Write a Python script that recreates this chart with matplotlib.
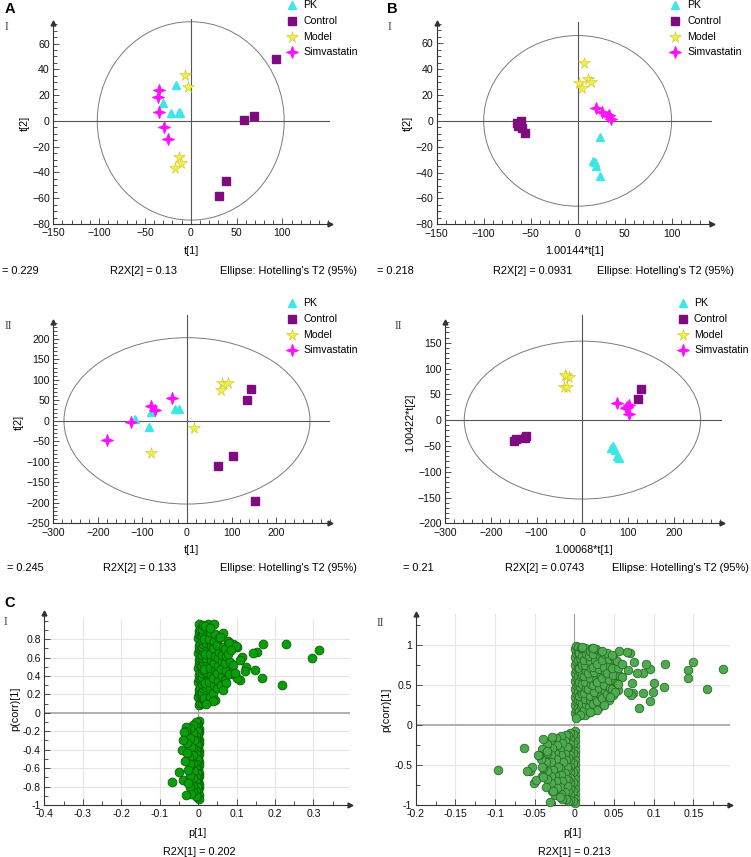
import math
import matplotlib
matplotlib.use("Agg")
import matplotlib.pyplot as plt
from matplotlib.patches import Ellipse
from matplotlib.lines import Line2D
from matplotlib.path import Path
from matplotlib.ticker import MultipleLocator

plt.rcParams['font.family'] = ['Liberation Sans', 'DejaVu Sans']
plt.rcParams['font.size'] = 7.8

W, H = 751, 857

# ---------------- data: score plots ----------------
groups = ["PK", "Control", "Model", "Simvastatin"]

AI_PK_x = [-30.7, -16, -22, -13, -11.5]
AI_PK_y = [13.6, 28, 6.4, 6.6, 6.0]
AI_Control_x = [92.7, 69, 58.4, 38.7, 30.7]
AI_Control_y = [48.3, 4, 0.7, -47, -58]
AI_Model_x = [-5.8, -2.9, -12.4, -10.6, -17.5]
AI_Model_y = [35.7, 26.5, -28.2, -32.3, -36.7]
AI_Simva_x = [-34.3, -35.8, -34.3, -29.6, -25.2]
AI_Simva_y = [23.9, 18.7, 7.1, -5, -14.3]

BI_PK_x = [23.8, 16.7, 19.5, 23.8, 18]
BI_PK_y = [-12.7, -30.8, -34.9, -42.4, -32]
BI_Control_x = [-60.6, -63.1, -59.6, -56, -64.9]
BI_Control_y = [0.2, -4, -5.7, -9, -2]
BI_Model_x = [7.1, 11.3, 14.2, 1.4, 5.0]
BI_Model_y = [45, 32.4, 29.8, 29, 25.2]
BI_Simva_x = [19.1, 26.2, 33.7, 35.5, 32.5]
BI_Simva_y = [9.7, 6.6, 4.6, 1.2, 3.5]

AII_PK_x = [-116.6, -80.7, -85.2, -27.5, -17.8]
AII_PK_y = [3.9, 22.6, -14, 28.3, 29.1]
AII_Control_x = [143, 135.5, 104, 69, 152]
AII_Control_y = [78, 51, -85, -110, -195]
AII_Model_x = [78, 93, 75.7, 15, -81.5]
AII_Model_y = [91.7, 93.5, 75.6, -18, -79]
AII_Simva_x = [-32.8, -81.5, -71.7, -125.6, -178.8]
AII_Simva_y = [56.8, 36.5, 26.7, -1.8, -46.6]

BII_PK_x = [62, 67, 70, 76, 79]
BII_PK_y = [-55, -51, -57, -70, -73]
BII_Control_x = [-149.7, -144.6, -125, -123, 128.7, 120.8]
BII_Control_y = [-39.8, -37.2, -34, -31, 61, 40.2]
BII_Model_x = [-36, -29, -41.2, -34, -38]
BII_Model_y = [85.5, 84, 64.8, 63.5, 87]
BII_Simva_x = [75.2, 97.6, 102, 101, 96]
BII_Simva_y = [32.5, 26, 29, 12, 24]

# ---------------- data: S-plots (p[1], p(corr)[1]) ----------------
cI_pos = [
    (0.002, 0.09), (0.004, 0.13), (0.001, 0.17), (0.003, 0.21), (0.002, 0.25), (0.004, 0.29),
    (0.001, 0.33), (0.003, 0.37), (0.002, 0.41), (0.004, 0.45), (0.001, 0.49), (0.003, 0.53),
    (0.002, 0.57), (0.004, 0.61), (0.001, 0.65), (0.003, 0.69), (0.002, 0.73), (0.004, 0.77),
    (0.001, 0.81), (0.003, 0.85), (0.002, 0.89), (0.004, 0.93), (0.002, 0.96),
    (0.006, 0.11), (0.007, 0.19), (0.006, 0.27), (0.007, 0.35), (0.006, 0.43), (0.007, 0.51),
    (0.006, 0.59), (0.007, 0.67), (0.006, 0.75), (0.007, 0.83), (0.006, 0.91),
    (0.010, 0.11), (0.012, 0.15), (0.009, 0.19), (0.011, 0.23), (0.013, 0.27), (0.010, 0.31),
    (0.012, 0.35), (0.009, 0.39), (0.011, 0.43), (0.013, 0.47), (0.010, 0.51), (0.012, 0.55),
    (0.009, 0.59), (0.011, 0.63), (0.013, 0.67), (0.010, 0.71), (0.012, 0.75), (0.009, 0.79),
    (0.011, 0.83), (0.013, 0.87), (0.010, 0.91), (0.012, 0.95),
    (0.019, 0.12), (0.022, 0.20), (0.020, 0.28), (0.024, 0.35), (0.021, 0.44), (0.023, 0.52),
    (0.020, 0.60), (0.024, 0.68), (0.021, 0.76), (0.023, 0.84), (0.020, 0.92), (0.026, 0.96),
    (0.016, 0.16), (0.017, 0.32), (0.016, 0.48), (0.017, 0.64), (0.016, 0.80), (0.017, 0.94),
    (0.030, 0.17), (0.032, 0.26), (0.029, 0.33), (0.033, 0.41), (0.031, 0.49), (0.034, 0.57),
    (0.030, 0.64), (0.033, 0.72), (0.029, 0.80), (0.031, 0.88),
    (0.040, 0.22), (0.042, 0.30), (0.039, 0.38), (0.043, 0.46), (0.041, 0.54), (0.044, 0.62),
    (0.040, 0.70), (0.042, 0.78), (0.045, 0.85),
    (0.050, 0.27), (0.052, 0.35), (0.049, 0.43), (0.053, 0.51), (0.051, 0.59), (0.054, 0.66),
    (0.050, 0.74), (0.055, 0.81),
    (0.060, 0.30), (0.062, 0.40), (0.059, 0.48), (0.063, 0.56), (0.061, 0.63), (0.064, 0.71),
    (0.070, 0.36), (0.072, 0.45), (0.069, 0.54), (0.073, 0.62), (0.071, 0.69),
    (0.080, 0.42), (0.083, 0.55), (0.079, 0.64),
    (0.041, 0.96), (0.065, 0.87), (0.077, 0.78), (0.090, 0.75), (0.100, 0.71), (0.080, 0.76),
    (0.099, 0.72), (0.086, 0.68), (0.056, 0.82), (0.030, 0.92),
    (0.169, 0.75), (0.228, 0.75), (0.315, 0.68), (0.295, 0.60), (0.153, 0.66), (0.143, 0.65),
    (0.115, 0.61), (0.108, 0.57), (0.125, 0.50), (0.147, 0.47), (0.121, 0.45), (0.165, 0.38),
    (0.219, 0.30), (0.108, 0.36), (0.095, 0.41), (0.091, 0.52), (0.073, 0.32), (0.065, 0.25),
    (0.043, 0.14), (0.038, 0.13), (0.021, 0.10), (0.100, 0.375), (0.097, 0.43),
]

cI_neg = [
    (0.002, -0.09), (0.001, -0.13), (0.003, -0.17), (0.002, -0.21), (0.001, -0.25), (0.003, -0.29),
    (0.002, -0.33), (0.001, -0.37), (0.003, -0.41), (0.002, -0.45), (0.001, -0.49), (0.003, -0.53),
    (0.002, -0.57), (0.001, -0.61), (0.003, -0.65), (0.002, -0.69), (0.001, -0.73), (0.003, -0.77),
    (0.002, -0.81), (0.001, -0.85), (0.003, -0.89), (0.002, -0.93),
    (-0.002, -0.11), (-0.001, -0.19), (-0.002, -0.27), (-0.001, -0.35), (-0.002, -0.43),
    (-0.001, -0.51), (-0.002, -0.59), (-0.001, -0.67), (-0.002, -0.75), (-0.001, -0.83),
    (-0.002, -0.91),
    (-0.005, -0.10), (-0.006, -0.15), (-0.004, -0.20), (-0.006, -0.25), (-0.005, -0.30),
    (-0.004, -0.35), (-0.006, -0.40), (-0.005, -0.45), (-0.004, -0.50), (-0.006, -0.55),
    (-0.005, -0.60), (-0.004, -0.65), (-0.006, -0.70), (-0.005, -0.75), (-0.004, -0.80),
    (-0.006, -0.85), (-0.005, -0.90),
    (-0.012, -0.13), (-0.013, -0.22), (-0.011, -0.30), (-0.014, -0.38), (-0.012, -0.46),
    (-0.013, -0.55), (-0.011, -0.63), (-0.014, -0.71), (-0.012, -0.79), (-0.013, -0.86),
    (-0.020, -0.16), (-0.022, -0.27), (-0.019, -0.37), (-0.023, -0.48), (-0.021, -0.58),
    (-0.020, -0.68), (-0.022, -0.80), (-0.018, -0.88),
    (-0.031, -0.15), (-0.032, -0.20), (-0.036, -0.21), (-0.028, -0.33), (-0.041, -0.40),
    (-0.030, -0.44), (-0.022, -0.55), (-0.040, -0.73), (-0.031, -0.89), (-0.050, -0.64),
    (-0.069, -0.75), (-0.027, -0.62), (-0.033, -0.52), (-0.038, -0.30), (-0.025, -0.76),
]

cII_pos = [
    (0.002, 0.10), (0.001, 0.15), (0.002, 0.20), (0.001, 0.25), (0.002, 0.30), (0.001, 0.35),
    (0.002, 0.40), (0.001, 0.45), (0.002, 0.50), (0.001, 0.55), (0.002, 0.60), (0.001, 0.65),
    (0.002, 0.70), (0.001, 0.75), (0.002, 0.80), (0.001, 0.85), (0.002, 0.90), (0.001, 0.95),
    (0.002, 0.99),
    (0.004, 0.12), (0.004, 0.22), (0.004, 0.32), (0.004, 0.42), (0.004, 0.52), (0.004, 0.62),
    (0.004, 0.72), (0.004, 0.82), (0.004, 0.92), (0.004, 0.98),
    (0.007, 0.12), (0.006, 0.18), (0.008, 0.24), (0.007, 0.30), (0.006, 0.36), (0.008, 0.42),
    (0.007, 0.48), (0.006, 0.54), (0.008, 0.60), (0.007, 0.66), (0.006, 0.72), (0.008, 0.78),
    (0.007, 0.84), (0.006, 0.90), (0.008, 0.96),
    (0.010, 0.15), (0.010, 0.27), (0.010, 0.39), (0.010, 0.51), (0.010, 0.63), (0.010, 0.75),
    (0.010, 0.87), (0.010, 0.97),
    (0.013, 0.13), (0.012, 0.19), (0.014, 0.26), (0.013, 0.33), (0.012, 0.40), (0.014, 0.47),
    (0.013, 0.54), (0.012, 0.61), (0.014, 0.68), (0.013, 0.75), (0.012, 0.82), (0.014, 0.89),
    (0.013, 0.96),
    (0.019, 0.16), (0.018, 0.23), (0.020, 0.31), (0.019, 0.37), (0.017, 0.45), (0.021, 0.51),
    (0.019, 0.59), (0.017, 0.65), (0.021, 0.72), (0.019, 0.80), (0.018, 0.86), (0.020, 0.93),
    (0.022, 0.97),
    (0.025, 0.19), (0.023, 0.27), (0.027, 0.34), (0.025, 0.41), (0.024, 0.50), (0.027, 0.57),
    (0.025, 0.66), (0.023, 0.73), (0.026, 0.82), (0.024, 0.89), (0.027, 0.95),
    (0.031, 0.23), (0.029, 0.30), (0.033, 0.37), (0.031, 0.47), (0.029, 0.54), (0.033, 0.61),
    (0.031, 0.70), (0.029, 0.77), (0.032, 0.86), (0.034, 0.92),
    (0.037, 0.27), (0.035, 0.34), (0.039, 0.43), (0.037, 0.50), (0.035, 0.59), (0.039, 0.66),
    (0.037, 0.73), (0.035, 0.81), (0.039, 0.89),
    (0.043, 0.31), (0.041, 0.39), (0.045, 0.47), (0.043, 0.57), (0.041, 0.65), (0.045, 0.74),
    (0.043, 0.83), (0.041, 0.90),
    (0.049, 0.38), (0.047, 0.45), (0.051, 0.55), (0.049, 0.63), (0.047, 0.72), (0.051, 0.81),
    (0.049, 0.87),
    (0.055, 0.44), (0.054, 0.53), (0.057, 0.62), (0.055, 0.71), (0.053, 0.80),
    (0.187, 0.70), (0.167, 0.45), (0.149, 0.79), (0.143, 0.69), (0.143, 0.59), (0.114, 0.77),
    (0.113, 0.48), (0.100, 0.53), (0.099, 0.41), (0.095, 0.30), (0.087, 0.40), (0.081, 0.21),
    (0.095, 0.70), (0.090, 0.77), (0.087, 0.65), (0.079, 0.65), (0.074, 0.40), (0.071, 0.38),
    (0.068, 0.42), (0.072, 0.53), (0.067, 0.69), (0.075, 0.79), (0.070, 0.90), (0.066, 0.91),
    (0.056, 0.93), (0.047, 0.875), (0.060, 0.77), (0.060, 0.60), (0.055, 0.52), (0.051, 0.42),
    (0.045, 0.35), (0.037, 0.25), (0.028, 0.19), (0.020, 0.16), (0.007, 0.125), (0.002, 0.09),
    (0.023, 0.96), (0.035, 0.93), (0.010, 0.98),
]

cII_neg = [
    (0.001, -0.08), (0.001, -0.14), (0.001, -0.20), (0.001, -0.26), (0.001, -0.32), (0.001, -0.38),
    (0.001, -0.44), (0.001, -0.50), (0.001, -0.56), (0.001, -0.62), (0.001, -0.68), (0.001, -0.74),
    (0.001, -0.80), (0.001, -0.86), (0.001, -0.92), (0.001, -0.97),
    (-0.002, -0.11), (-0.002, -0.23), (-0.002, -0.35), (-0.002, -0.47), (-0.002, -0.59),
    (-0.002, -0.71), (-0.002, -0.83), (-0.002, -0.95),
    (-0.005, -0.10), (-0.005, -0.17), (-0.005, -0.24), (-0.005, -0.31), (-0.005, -0.38),
    (-0.005, -0.45), (-0.005, -0.52), (-0.005, -0.59), (-0.005, -0.66), (-0.005, -0.73),
    (-0.005, -0.80), (-0.005, -0.87), (-0.005, -0.94),
    (-0.008, -0.13), (-0.008, -0.27), (-0.008, -0.41), (-0.008, -0.55), (-0.008, -0.69),
    (-0.008, -0.83), (-0.008, -0.95),
    (-0.011, -0.12), (-0.012, -0.20), (-0.010, -0.28), (-0.012, -0.36), (-0.011, -0.44),
    (-0.010, -0.52), (-0.012, -0.60), (-0.011, -0.68), (-0.010, -0.76), (-0.012, -0.84),
    (-0.011, -0.92),
    (-0.017, -0.14), (-0.016, -0.22), (-0.018, -0.31), (-0.017, -0.38), (-0.015, -0.46),
    (-0.018, -0.54), (-0.017, -0.63), (-0.016, -0.70), (-0.018, -0.78), (-0.017, -0.86),
    (-0.016, -0.93),
    (-0.023, -0.16), (-0.022, -0.25), (-0.024, -0.35), (-0.023, -0.43), (-0.021, -0.52),
    (-0.024, -0.62), (-0.023, -0.70), (-0.022, -0.79), (-0.024, -0.88),
    (-0.029, -0.19), (-0.028, -0.29), (-0.030, -0.37), (-0.029, -0.46), (-0.027, -0.56),
    (-0.030, -0.64), (-0.029, -0.73), (-0.028, -0.82),
    (-0.035, -0.24), (-0.034, -0.35), (-0.036, -0.46), (-0.035, -0.57), (-0.034, -0.68),
    (-0.036, -0.78),
    (-0.041, -0.30), (-0.042, -0.42), (-0.040, -0.54), (-0.041, -0.64),
    (-0.063, -0.29), (-0.039, -0.175), (-0.0285, -0.146), (-0.045, -0.375), (-0.056, -0.575),
    (-0.051, -0.73), (-0.049, -0.69), (-0.031, -0.96), (-0.039, -0.65), (-0.041, -0.52),
    (-0.035, -0.33), (-0.027, -0.83), (-0.018, -0.90), (-0.096, -0.56), (-0.054, -0.52),
    (-0.060, -0.575), (-0.046, -0.375),
]

# ---------------- styles ----------------
_star4 = [(math.cos(math.radians(90 + 45 * k)) * (1.0 if k % 2 == 0 else 0.34),
           math.sin(math.radians(90 + 45 * k)) * (1.0 if k % 2 == 0 else 0.34)) for k in range(8)]
STAR4 = Path(_star4 + [_star4[0]], closed=True)

STY = {
    "PK": dict(marker="^", color="#3ee6e6", mec="#3ee6e6", ms=6.3),
    "Control": dict(marker="s", color="#7e0c7e", mec="#7e0c7e", ms=5.3),
    "Model": dict(marker="*", color="#f2f045", mec="#c9c52a", mew=0.4, ms=8.5),
    "Simvastatin": dict(marker=STAR4, color="#ff10ff", mec="#ff10ff", ms=8.2),
}

fig = plt.figure(figsize=(W / 100, H / 100), dpi=100)


def rect(l, t, r, b):
    return [l / W, 1 - b / H, (r - l) / W, (b - t) / H]


def ftext(x, y, s, **kw):
    fig.text(x / W, 1 - y / H, s, **kw)


AXC = "#333333"
TFS = 7.6


def style_axes(ax, xt, xmin_step, yt, ymin_step):
    for s in ("top", "right"):
        ax.spines[s].set_visible(False)
    for s in ("left", "bottom"):
        ax.spines[s].set_color(AXC)
        ax.spines[s].set_linewidth(0.8)
    ax.set_xticks(xt)
    ax.set_yticks(yt)
    ax.xaxis.set_minor_locator(MultipleLocator(xmin_step))
    ax.yaxis.set_minor_locator(MultipleLocator(ymin_step))
    ax.tick_params(which="both", direction="in", color=AXC, width=0.6, labelsize=TFS,
                   labelcolor="#111111")
    ax.tick_params(which="major", length=4.5)
    ax.tick_params(which="minor", length=3)
    ax.tick_params(axis="x", pad=3.2)
    ax.tick_params(axis="y", pad=2.5)
    ax.plot(1, 0, marker=">", color=AXC, ms=3.5, transform=ax.transAxes, clip_on=False)
    ax.plot(0, 1, marker="^", color=AXC, ms=3.5, transform=ax.transAxes, clip_on=False)


def score_panel(rc, xlim, ylim, xt, xms, yt, yms, ell, vtop, data, xlabel, ylabel):
    ax = fig.add_axes(rect(*rc))
    ax.set_xlim(*xlim)
    ax.set_ylim(*ylim)
    ax.set_facecolor("none")
    style_axes(ax, xt, xms, yt, yms)
    ax.add_patch(Ellipse((0, 0), 2 * ell[0], 2 * ell[1], fill=False, ec="#7a7a7a", lw=0.7,
                         clip_on=False))
    ax.axhline(0, color="#555555", lw=0.8)
    ax.plot([0, 0], [ylim[0], vtop], color="#555555", lw=0.8, clip_on=False)
    for g in groups:
        xs, ys = data[g]
        ax.plot(xs, ys, ls="none", **STY[g], clip_on=False)
    ax.set_xlabel(xlabel, fontsize=7.8, labelpad=5.5)
    ax.set_ylabel(ylabel, fontsize=7.8, labelpad=2)
    return ax


def legend_at(mx, tx, ys):
    for g, y in zip(groups, ys):
        fig.add_artist(Line2D([mx / W], [1 - y / H], ls="none", transform=fig.transFigure,
                              **STY[g]))
        ftext(tx, y, g, ha="left", va="center", fontsize=7.6)


# ---- A I ----
score_panel((53.3, 23, 330, 224), (-150, 152), (-80, 76),
            [-150, -100, -50, 0, 50, 100], 10, [-80, -60, -40, -20, 0, 20, 40, 60], 5,
            (102, 77), 79,
            {"PK": (AI_PK_x, AI_PK_y), "Control": (AI_Control_x, AI_Control_y),
             "Model": (AI_Model_x, AI_Model_y), "Simvastatin": (AI_Simva_x, AI_Simva_y)},
            "t[1]", "t[2]")
# ---- B I ----
score_panel((436.7, 23, 712, 224.3), (-150, 143), (-80, 75.7),
            [-150, -100, -50, 0, 50, 100], 10, [-80, -60, -40, -20, 0, 20, 40, 60], 5,
            (100, 66), 76.5,
            {"PK": (BI_PK_x, BI_PK_y), "Control": (BI_Control_x, BI_Control_y),
             "Model": (BI_Model_x, BI_Model_y), "Simvastatin": (BI_Simva_x, BI_Simva_y)},
            "1.00144*t[1]", "t[2]")
# ---- A II ----
score_panel((53.3, 321.7, 330, 523.3), (-300, 321), (-250, 242),
            [-300, -200, -100, 0, 100, 200], 20,
            [-250, -200, -150, -100, -50, 0, 50, 100, 150, 200], 10,
            (276, 203), 258,
            {"PK": (AII_PK_x, AII_PK_y), "Control": (AII_Control_x, AII_Control_y),
             "Model": (AII_Model_x, AII_Model_y),
             "Simvastatin": (AII_Simva_x, AII_Simva_y)},
            "t[1]", "t[2]")
# ---- B II ----
score_panel((445, 321.7, 721.7, 523.3), (-300, 304), (-200, 190.7),
            [-300, -200, -100, 0, 100, 200], 20,
            [-200, -150, -100, -50, 0, 50, 100, 150], 10,
            (258, 153), 204,
            {"PK": (BII_PK_x, BII_PK_y), "Control": (BII_Control_x, BII_Control_y),
             "Model": (BII_Model_x, BII_Model_y),
             "Simvastatin": (BII_Simva_x, BII_Simva_y)},
            "1.00068*t[1]", "1.00422*t[2]")

legend_at(292, 303, [5, 21, 37, 52])
legend_at(675, 687, [5, 21, 37, 52])
legend_at(292, 303, [303, 319, 335, 350])
legend_at(683, 694, [303, 319, 335, 350])

# summary lines
SFS = 7.9
ftext(2, 271, "= 0.229", va="center", fontsize=SFS)
ftext(110, 271, "R2X[2] = 0.13", va="center", fontsize=SFS)
ftext(220, 271, "Ellipse: Hotelling's T2 (95%)", va="center", fontsize=SFS)
ftext(377, 271, "= 0.218", va="center", fontsize=SFS)
ftext(493, 271, "R2X[2] = 0.0931", va="center", fontsize=SFS)
ftext(597, 271, "Ellipse: Hotelling's T2 (95%)", va="center", fontsize=SFS)
ftext(7, 568, "= 0.245", va="center", fontsize=SFS)
ftext(103, 568, "R2X[2] = 0.133", va="center", fontsize=SFS)
ftext(220, 568, "Ellipse: Hotelling's T2 (95%)", va="center", fontsize=SFS)
ftext(403, 568, "= 0.21", va="center", fontsize=SFS)
ftext(505, 568, "R2X[2] = 0.0743", va="center", fontsize=SFS)
ftext(612, 568, "Ellipse: Hotelling's T2 (95%)", va="center", fontsize=SFS)


# ---- S-plots ----
def s_panel(rc, xlim, ylim, xt, xms, yt, yms, gx, gy, gtop, pts_list, fc, ec, s, xlabel):
    ax = fig.add_axes(rect(*rc))
    ax.set_xlim(*xlim)
    ax.set_ylim(*ylim)
    ax.set_facecolor("none")
    style_axes(ax, xt, xms, yt, yms)
    for g in gx:
        ax.plot([g, g], [ylim[0], gtop], color="#e6e6e6", lw=0.8, zorder=0)
    for g in gy:
        ax.axhline(g, color="#e6e6e6", lw=0.8, zorder=0)
    ax.axhline(0, color="#9a9a9a", lw=1.1, zorder=1)
    ax.plot([0, 0], [ylim[0], gtop], color="#a0a0a0", lw=0.8, zorder=1)
    for pts in pts_list:
        xs = [p[0] for p in pts]
        ys = [p[1] for p in pts]
        ax.scatter(xs, ys, s=s, c=fc, edgecolors=ec, linewidths=0.6, zorder=3, clip_on=False)
    ax.set_xlabel(xlabel, fontsize=7.8, labelpad=6.5)
    ax.set_ylabel("p(corr)[1]", fontsize=7.8, labelpad=2)
    return ax


axCI = s_panel((44.3, 613.3, 350, 805), (-0.4, 0.395), (-1, 1.08),
               [-0.4, -0.3, -0.2, -0.1, 0, 0.1, 0.2, 0.3], 0.05,
               [-1, -0.8, -0.6, -0.4, -0.2, 0, 0.2, 0.4, 0.6, 0.8], 0.1,
               [-0.3, -0.2, -0.1, 0.1, 0.2, 0.3], [-0.8, -0.6, -0.4, -0.2, 0.2, 0.4, 0.6, 0.8],
               1.02, [cI_pos, cI_neg], "#0a9e0a", "#056005", 40, "p[1]")
axCI.set_xticklabels(["-0.4", "-0.3", "-0.2", "-0.1", "0", "0.1", "0.2", "0.3"])
axCI.set_yticklabels(["-1", "-0.8", "-0.6", "-0.4", "-0.2", "0", "0.2", "0.4", "0.6", "0.8"])

axCII = s_panel((415.7, 614, 730, 805), (-0.2, 0.196), (-1, 1.39),
                [-0.2, -0.15, -0.1, -0.05, 0, 0.05, 0.1, 0.15], 0.025,
                [-1, -0.5, 0, 0.5, 1], 0.25,
                [-0.15, -0.1, -0.05, 0.05, 0.1, 0.15], [-0.5, 0.5, 1.0],
                1.39, [cII_pos, cII_neg], "#4fab4f", "#2a6a2a", 38, "p[1]")
axCII.set_xticklabels(["-0.2", "-0.15", "-0.1", "-0.05", "0", "0.05", "0.1", "0.15"])
axCII.set_yticklabels(["-1", "-0.5", "0", "0.5", "1"])

ftext(199, 852, "R2X[1] = 0.202", ha="center", va="center", fontsize=7.8)
ftext(574, 852, "R2X[1] = 0.213", ha="center", va="center", fontsize=7.8)

# panel letters and numerals
ftext(5, 9, "A", ha="left", va="center", fontsize=10.5, fontweight="bold")
ftext(387, 9, "B", ha="left", va="center", fontsize=10.5, fontweight="bold")
ftext(4, 603, "C", ha="left", va="center", fontsize=10.5, fontweight="bold")
rom = dict(ha="left", va="center", fontsize=8.5, family="Liberation Serif", color="#444444")
ftext(5, 27, "I", **rom)
ftext(388, 27, "I", **rom)
ftext(5, 326, "II", **rom)
ftext(395, 326, "II", **rom)
ftext(4, 622, "I", **rom)
ftext(377, 623, "II", **rom)

fig.savefig("out.png", dpi=100)
